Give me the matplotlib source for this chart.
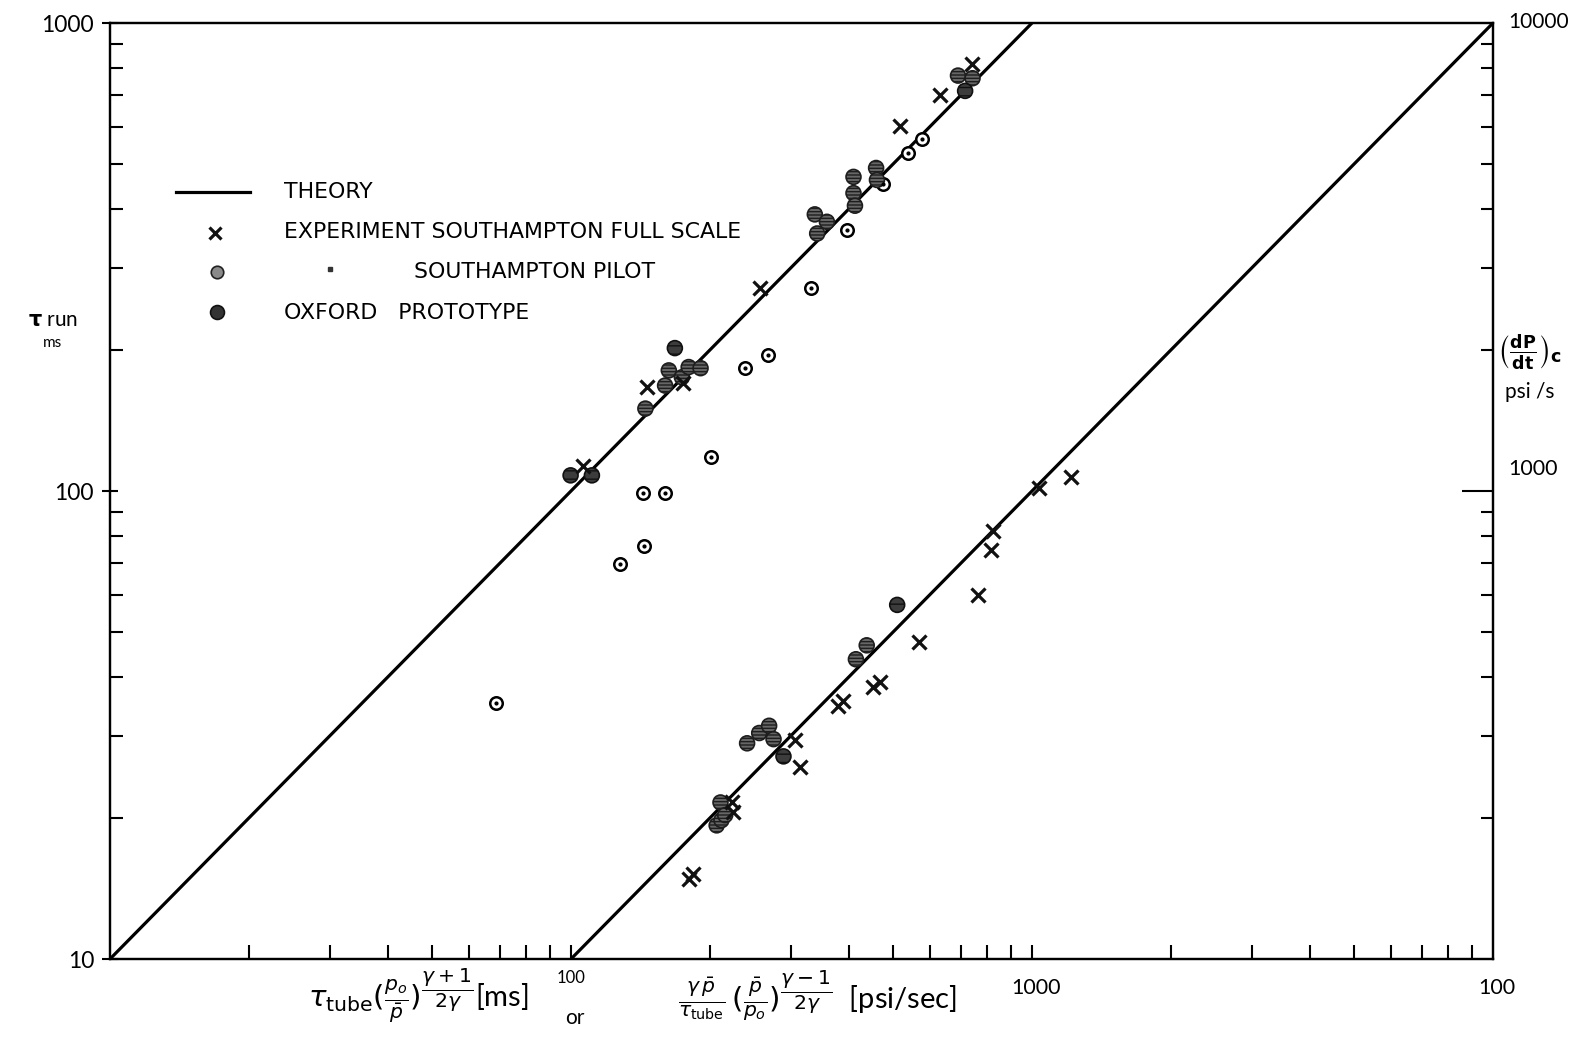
import matplotlib.pyplot as plt
from matplotlib.lines import Line2D
from matplotlib.ticker import LogLocator, NullFormatter, FixedLocator

plt.rcParams['font.family'] = ['Lato', 'DejaVu Sans']
plt.rcParams['mathtext.fontset'] = 'dejavusans'
plt.rcParams['hatch.linewidth'] = 1.0

## theory lines: tau_run = tau_tube(...) and (dP/dt)c = gamma p / tau_tube(...)
theory_ms_x = [10, 1000]
theory_psi_x = [100, 10000]

## run time group (left axis, ms)
fs_ms_x = [106, 146, 175, 257, 518, 631, 742]
fs_ms_y = [113, 167, 170, 272, 603, 700, 817]

pilot_ms_x = [145, 160, 163, 174, 180, 191, 338, 342, 359, 410, 410, 413, 459, 461, 691, 743]
pilot_ms_y = [150, 168, 181, 175, 184, 183, 390, 355, 376, 469, 433, 407, 490, 462, 772, 762]

oxford_ms_x = [99.8, 111, 168, 716]
oxford_ms_y = [108, 108, 202, 716]

dot_ms_x = [68.8, 128, 144, 143, 160, 201, 238, 267, 331, 396, 475, 539, 578]
dot_ms_y = [35.2, 69.7, 76.4, 98.9, 98.9, 118, 183, 195, 272, 361, 453, 527, 564]

## pressure rise group (right axis, psi/s)
fs_psi_x = [180, 184, 224, 225, 306, 314, 380, 389, 451, 468, 569, 762, 813, 821, 1033, 1214]
fs_psi_y = [148, 152, 216, 206, 294, 257, 347, 356, 382, 391, 476, 600, 749, 820, 1016, 1069]

pilot_psi_x = [207, 211, 212, 216, 241, 256, 269, 275, 415, 438]
pilot_psi_y = [193, 216, 198, 203, 289, 304, 315, 295, 437, 468]

oxford_psi_x = [289, 510]
oxford_psi_y = [271, 571]

W, H = 1593, 1051
fig = plt.figure(figsize=(W / 100, H / 100), dpi=100)
ax = fig.add_axes([110 / W, 1 - 959 / H, 1383 / W, 936 / H])
ax2 = ax.twinx()

for a in (ax, ax2):
    a.set_xscale('log')
    a.set_yscale('log')
    a.set_xlim(10, 10000)
ax.set_ylim(10, 1000)
ax2.set_ylim(100, 10000)
for a in (ax, ax2):
    for s in a.spines.values():
        s.set_linewidth(1.6)

def pilot(a, x, y):
    a.scatter(x, y, s=115, facecolor='#666666', edgecolor='#1e1e1e',
              hatch='-----', linewidths=1.2, zorder=4)

def oxford(a, x, y):
    a.scatter(x, y, s=115, facecolor='#3c3c3c', edgecolor='#111111',
              hatch='--', linewidths=1.2, zorder=4)

def crosses(a, x, y):
    a.plot(x, y, ls='none', marker='x', ms=9.5, mew=2.3, color='#111111', zorder=5)

# upper line and points
ax.plot(theory_ms_x, theory_ms_x, color='black', lw=2.3, zorder=3)
ax.plot(dot_ms_x, dot_ms_y, ls='none', marker='o', ms=9, mfc='white', mec='black',
        mew=1.8, zorder=4)
ax.plot(dot_ms_x, dot_ms_y, ls='none', marker='o', ms=2, color='black', zorder=5)
pilot(ax, pilot_ms_x, pilot_ms_y)
oxford(ax, oxford_ms_x, oxford_ms_y)
crosses(ax, fs_ms_x, fs_ms_y)

# lower line and points
ax2.plot(theory_psi_x, theory_psi_x, color='black', lw=2.3, zorder=3)
pilot(ax2, pilot_psi_x, pilot_psi_y)
oxford(ax2, oxford_psi_x, oxford_psi_y)
crosses(ax2, fs_psi_x, fs_psi_y)

# ticks
ax.xaxis.set_major_locator(FixedLocator([100, 1000]))
ax.xaxis.set_minor_locator(LogLocator(base=10, subs=range(2, 10)))
ax.xaxis.set_major_formatter(NullFormatter())
ax.xaxis.set_minor_formatter(NullFormatter())
ax.tick_params(axis='x', which='both', direction='in', length=10, width=1.5,
               top=False, labelbottom=False)
ax2.tick_params(axis='x', which='both', top=False, bottom=False)
ax.yaxis.set_major_locator(FixedLocator([10, 100, 1000]))
ax.yaxis.set_minor_locator(LogLocator(base=10, subs=range(2, 10)))
ax.yaxis.set_minor_formatter(NullFormatter())
ax.set_yticklabels(['10', '100', '1000'])
ax.tick_params(axis='y', which='major', direction='inout', length=11, width=1.5,
               pad=6, labelsize=16.5)
ax.tick_params(axis='y', which='minor', direction='in', length=9, width=1.5)
ax.tick_params(axis='y', which='both', right=False)

ax2.yaxis.set_major_locator(FixedLocator([1000]))
ax2.yaxis.set_minor_locator(LogLocator(base=10, subs=range(2, 10)))
ax2.yaxis.set_major_formatter(NullFormatter())
ax2.yaxis.set_minor_formatter(NullFormatter())
ax2.tick_params(axis='y', which='major', direction='in', length=22, width=1.5)
ax2.tick_params(axis='y', which='minor', direction='in', length=9, width=1.5)

def ftxt(x, y, s, **kw):
    fig.text(x / W, 1 - y / H, s, **kw)

# axis numbers placed by hand
ftxt(571, 978, '100', fontsize=12, ha='center', va='center')
ftxt(575, 1018, 'or', fontsize=15, ha='center', va='center')
ftxt(1036, 988, '1000', fontsize=15.5, ha='center', va='center')
ftxt(1497, 988, '100', fontsize=15.5, ha='center', va='center')
ftxt(1508, 22, '10000', fontsize=15, ha='left', va='center')
ftxt(1508, 469, '1000', fontsize=15.5, ha='left', va='center')

# axis titles
ftxt(28, 320, r'$\mathbf{\tau}$ run', fontsize=15, ha='left', va='center')
ftxt(53, 343, 'ms', fontsize=11, ha='center', va='center')
ftxt(1530, 352, r'$\left(\frac{\mathbf{dP}}{\mathbf{dt}}\right)_{\mathbf{c}}$',
     fontsize=18, ha='center', va='center')
ftxt(1530, 392, 'psi /s', fontsize=15, ha='center', va='center')

ftxt(418, 996, r'$\tau_{\mathrm{tube}}(\frac{p_o}{\bar{p}})^{\dfrac{\gamma+1}{2\gamma}}$[ms]',
     fontsize=21, ha='center', va='center')
ftxt(818, 996, r'$\frac{\gamma\,\bar{p}}{\tau_{\mathrm{tube}}}\,(\frac{\bar{p}}{p_o})^{\dfrac{\gamma-1}{2\gamma}}$  [psi/sec]',
     fontsize=21, ha='center', va='center')

# key
lx = lambda x: x / W
ly = lambda y: 1 - y / H
fig.add_artist(Line2D([lx(176), lx(250)], [ly(192), ly(192)], color='black', lw=2.3))
fig.add_artist(Line2D([lx(215)], [ly(233)], ls='none', marker='x', ms=8.5, mew=2.3,
                      color='#111111'))
fig.add_artist(Line2D([lx(217)], [ly(272)], ls='none', marker='o', ms=9,
                      mfc='#8a8a8a', mec='#222222', mew=1.2))
fig.add_artist(Line2D([lx(330)], [ly(269)], ls='none', marker='s', ms=3.5,
                      mfc='#333333', mec='#333333'))
fig.add_artist(Line2D([lx(217)], [ly(312)], ls='none', marker='o', ms=10,
                      mfc='#333333', mec='#111111', mew=1.2))
kf = dict(fontsize=15.8, va='center', family=['DejaVu Sans'])
ftxt(284, 192, 'THEORY', **kf)
ftxt(284, 232, 'EXPERIMENT SOUTHAMPTON FULL SCALE', **kf)
ftxt(414, 272, 'SOUTHAMPTON PILOT', **kf)
ftxt(284, 313, 'OXFORD   PROTOTYPE', **kf)

fig.savefig('out.png', dpi=100)
